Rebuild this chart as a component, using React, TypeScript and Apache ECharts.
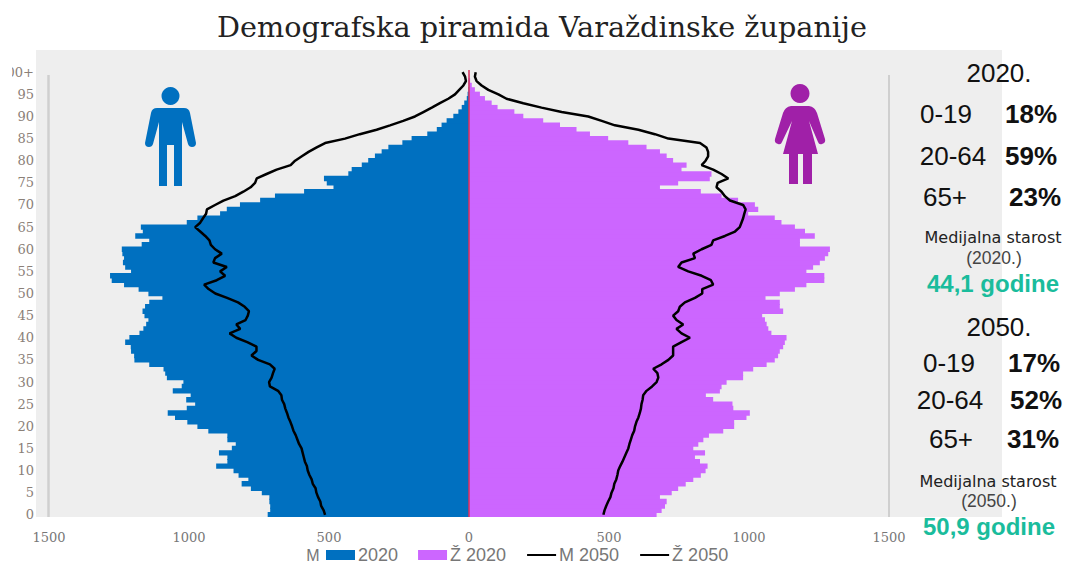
import React, { useEffect, useRef } from "react";
import * as echarts from "echarts";

const ages: string[] = [];
for (let a = 0; a <= 100; a++) ages.push(a === 100 ? "100+" : String(a));
const xTicks = [-1500, -1000, -500, 0, 500, 1000, 1500];

const male2020 = [
  719,710,710,713,713,740,779,812,788,823,
  841,903,863,863,893,847,833,863,863,931,
  970,1006,1050,1076,1008,978,1010,994,1058,1026,
  1020,1079,1085,1091,1142,1195,1196,1207,1208,1228,
  1213,1177,1163,1153,1145,1159,1166,1157,1142,1095,
  1145,1180,1232,1276,1282,1207,1228,1236,1232,1238,
  1240,1169,1142,1192,1165,1172,1008,970,889,865,
  818,746,693,589,484,508,518,431,419,383,
  360,336,312,288,238,205,149,115,98,80,
  56,38,26,17,8,5,2,1,1,0,
  0,
];
const female2020 = [
  670,688,700,706,682,724,747,774,801,828,
  845,852,825,807,843,801,819,837,857,908,
  947,947,991,1003,944,941,872,846,896,902,
  920,979,979,1015,1063,1092,1104,1110,1122,1128,
  1134,1080,1069,1063,1057,1047,1122,1110,1110,1059,
  1110,1164,1205,1269,1269,1205,1229,1253,1271,1283,
  1289,1182,1182,1235,1200,1164,1116,1092,997,1033,
  1021,961,902,828,682,747,860,866,759,777,
  729,706,682,634,569,497,432,384,325,265,
  194,162,102,81,57,39,21,10,4,1,
  0,
];
const male2050 = [
  514,519,528,531,539,545,548,558,562,570,
  576,579,586,590,594,598,607,613,619,627,
  632,638,645,650,656,660,668,670,682,711,
  714,705,700,694,711,753,777,759,759,792,
  831,855,817,831,798,790,786,801,825,864,
  906,930,946,901,871,889,865,913,907,883,
  907,922,927,942,960,978,960,950,939,936,
  907,877,835,806,780,764,758,723,687,637,
  621,597,573,544,514,443,390,330,282,235,
  193,163,133,104,74,50,35,20,11,14,
  23,
];
const female2050 = [
  480,484,490,497,505,509,516,519,526,530,
  533,540,548,555,562,569,573,578,583,590,
  593,598,605,610,614,616,620,622,634,654,
  670,676,673,658,688,712,729,729,729,759,
  789,759,741,765,741,729,747,753,771,807,
  833,833,872,864,831,783,747,759,807,801,
  831,866,872,914,950,967,973,979,983,988,
  979,932,914,902,884,888,926,902,872,831,
  845,854,854,848,825,712,664,605,521,474,
  426,331,259,194,134,105,69,45,27,21,
  24,
];

const BLUE = "#0070c0";
const PURPLE = "#cc66ff";
const TEAL = "#1abc9c";
const SERIF = "'DejaVu Serif', serif";
const SANS = "'Liberation Sans', Arial, sans-serif";
const DEJAVU = "'DejaVu Sans', sans-serif";

const MALE_D =
  "M157 108 L184 108 Q189 108 190 113 L196 143 Q196 147 192 147 Q189 147 188 144 L182 122 L182 186 L174 186 L174 145 L167 145 L167 186 L159 186 L159 122 L153 144 Q152 147 149 147 Q145 147 145 143 L151 113 Q152 108 157 108 Z";
const FEMALE_D =
  "M791 106 L809 106 Q815 107 817 113 L825 139 Q826 143 822 144 Q819 145 818 142 L809 121 L818 154 L812 154 L812 184 L803 184 L803 154 L798 154 L798 184 L789 184 L789 154 L783 154 L792 121 L782 142 Q781 145 778 144 Q774 143 775 139 L783 113 Q785 107 791 106 Z";

echarts.graphic.registerShape("figureMale", echarts.graphic.extendPath(MALE_D, {}));
echarts.graphic.registerShape("figureFemale", echarts.graphic.extendPath(FEMALE_D, {}));

const label = (x: number, y: number, text: string, size: number, extra: any = {}) => ({
  type: "text",
  z: 50,
  x,
  y,
  style: {
    text,
    fontSize: size,
    fontFamily: SANS,
    fill: "#111",
    align: "center",
    verticalAlign: "middle",
    ...extra,
  },
});

export default function App() {
  const ref = useRef<HTMLDivElement>(null);
  useEffect(() => {
    const chart = echarts.init(ref.current!, undefined, { renderer: "svg" });
    const pos = (arr: number[]) => arr;
    const neg = (arr: number[]) => arr.map((v) => -v);
    const hideDot = { color: "transparent", opacity: 0, borderWidth: 0 };
    chart.setOption({
      animation: false,
      backgroundColor: "#fff",
      title: {
        text: "Demografska piramida Varaždinske županije",
        left: 537,
        top: 7,
        textAlign: "center",
        textStyle: { fontFamily: SERIF, fontSize: 28.7, fontWeight: "normal", color: "#222" },
      },
      grid: { left: 49, right: 176, top: 70, bottom: 44, outerBoundsMode: "none" },
      legend: {
        left: 326,
        top: 546,
        padding: 0,
        itemWidth: 29,
        itemHeight: 10,
        itemGap: 20,
        textStyle: { fontFamily: SANS, fontSize: 18, color: "#777", padding: [0, 0, 0, -2] },
        formatter: (n: string) => (n === "M 2020" ? "2020" : n),
        data: [
          { name: "M 2020", icon: "rect" },
          { name: "Ž 2020", icon: "rect" },
          { name: "M 2050", itemStyle: hideDot },
          { name: "Ž 2050", itemStyle: hideDot },
        ],
      },
      xAxis: {
        type: "value",
        min: xTicks[0],
        max: xTicks[xTicks.length - 1],
        interval: 500,
        splitLine: { show: false },
        axisTick: { show: false },
        axisLine: {
          show: true,
          onZero: false,
          lineStyle: { color: "#808080", width: 3, shadowColor: "rgba(0,0,0,0.35)", shadowBlur: 3, shadowOffsetY: 2 },
        },
        axisLabel: {
          margin: 14,
          fontFamily: SERIF,
          fontSize: 13,
          color: "#777",
          formatter: (v: number) => String(Math.abs(v)),
        },
      },
      yAxis: {
        type: "category",
        data: ages,
        boundaryGap: true,
        axisLine: { show: false, onZero: false },
        axisTick: { show: false },
        splitLine: { show: false },
        axisLabel: { interval: 4, margin: 15, fontFamily: SERIF, fontSize: 13, color: "#8a8078" },
      },
      series: [
        {
          name: "M 2020",
          type: "bar",
          stack: "p",
          barWidth: 5.4,
          itemStyle: { color: BLUE },
          data: neg(male2020),
        },
        {
          name: "Ž 2020",
          type: "bar",
          stack: "p",
          barWidth: 5.4,
          itemStyle: { color: PURPLE },
          data: pos(female2020),
          markLine: {
            silent: true,
            symbol: "none",
            label: { show: false },
            lineStyle: { color: "#d8325c", width: 1.5, type: "solid" },
            data: [{ xAxis: 0 }],
          },
        },
        {
          name: "M 2050",
          type: "line",
          symbol: "none",
          itemStyle: { color: "#000" },
          lineStyle: { color: "#000", width: 2.5 },
          data: neg(male2050),
          z: 5,
        },
        {
          name: "Ž 2050",
          type: "line",
          symbol: "none",
          itemStyle: { color: "#000" },
          lineStyle: { color: "#000", width: 2.5 },
          data: pos(female2050),
          z: 5,
        },
      ],
      graphic: [
        { type: "rect", z: -10, shape: { x: 36, y: 50, width: 966, height: 467 }, style: { fill: "#eeeeee" } },
        { type: "rect", z: 60, shape: { x: 0, y: 60, width: 12, height: 24 }, style: { fill: "#fff" } },
        { type: "line", z: -5, shape: { x1: 48.5, y1: 75, x2: 48.5, y2: 517 }, style: { stroke: "#cfcfcf", lineWidth: 2.5 } },
        { type: "line", z: -5, shape: { x1: 889, y1: 75, x2: 889, y2: 517 }, style: { stroke: "#cfcfcf", lineWidth: 2 } },
        { type: "figureMale", z: 10, x: 0, y: 0, style: { fill: BLUE } },
        { type: "circle", z: 10, shape: { cx: 170.5, cy: 96, r: 9 }, style: { fill: BLUE } },
        { type: "figureFemale", z: 10, x: 0, y: 0, style: { fill: "#a020a8" } },
        { type: "circle", z: 10, shape: { cx: 800, cy: 93.5, r: 9.5 }, style: { fill: "#a020a8" } },
        label(313, 555, "M", 16, { fill: "#777" }),

        label(999, 73, "2020.", 26),
        label(946, 114, "0-19", 26),
        label(1031, 114, "18%", 26, { fontWeight: "bold" }),
        label(953, 156, "20-64", 26),
        label(1031, 156, "59%", 26, { fontWeight: "bold" }),
        label(945, 197, "65+", 26),
        label(1035, 197, "23%", 26, { fontWeight: "bold" }),
        label(993, 237, "Medijalna starost", 16, { fontFamily: DEJAVU, fill: "#222" }),
        label(994, 258, "(2020.)", 17.5, { fill: "#444" }),
        label(993, 283, "44,1 godine", 24, { fill: TEAL, fontWeight: "bold" }),

        label(999, 327, "2050.", 26),
        label(949, 363, "0-19", 26),
        label(1034, 363, "17%", 26, { fontWeight: "bold" }),
        label(950, 400, "20-64", 26),
        label(1036, 400, "52%", 26, { fontWeight: "bold" }),
        label(951, 439, "65+", 26),
        label(1033, 439, "31%", 26, { fontWeight: "bold" }),
        label(988, 481, "Medijalna starost", 16, { fontFamily: DEJAVU, fill: "#222" }),
        label(989, 501, "(2050.)", 17.5, { fill: "#444" }),
        label(989, 526, "50,9 godine", 24, { fill: TEAL, fontWeight: "bold" }),
      ],
    });
    return () => chart.dispose();
  }, []);
  return (
    <div
      ref={ref}
      style={{ position: "absolute", left: 0, top: 0, width: 1065, height: 561, overflow: "hidden" }}
    />
  );
}
